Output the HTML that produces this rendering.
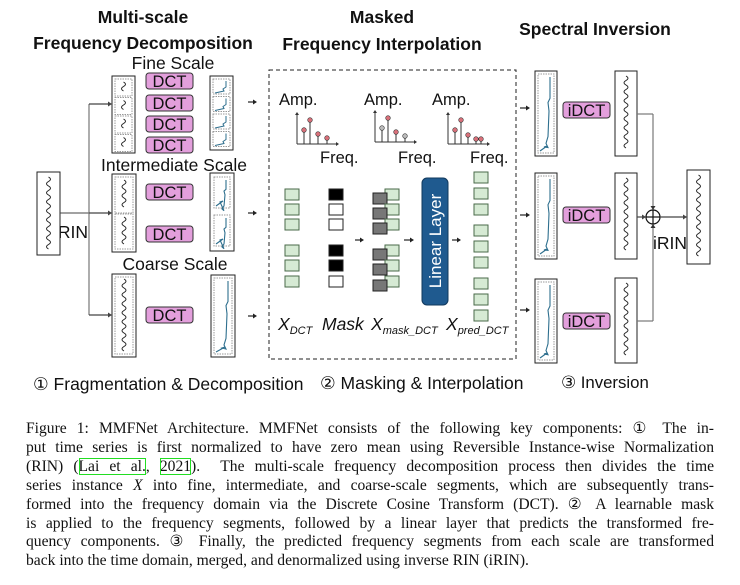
<!DOCTYPE html>
<html><head><meta charset="utf-8"><style>
body{margin:0;background:#fff;width:740px;height:585px;overflow:hidden;position:relative;font-family:"Liberation Sans",sans-serif}
svg{position:absolute;left:0;top:0}
.cap{position:absolute;left:26px;width:688px;top:420px;font-family:"Liberation Serif",serif;font-size:15.6px;line-height:18.9px;color:#111}
.cap div{text-align:justify;text-align-last:justify;white-space:nowrap;letter-spacing:0px}
.cap div.l{text-align-last:left}
.cit{outline:1.5px solid #22dd22;outline-offset:-1px}
</style></head><body>
<svg id="s" width="740" height="400" viewBox="0 0 740 400" font-family="Liberation Sans, sans-serif">
<g font-weight="bold" font-size="17.5" text-anchor="middle" fill="#111">
<text x="143" y="23">Multi-scale</text>
<text x="143" y="49">Frequency Decomposition</text>
<text x="382" y="23">Masked</text>
<text x="382" y="50">Frequency Interpolation</text>
<text x="595" y="35">Spectral Inversion</text>
</g>
<g font-size="17.5" text-anchor="middle" fill="#111">
<text x="173" y="69">Fine Scale</text>
<text x="174" y="171">Intermediate Scale</text>
<text x="175" y="270">Coarse Scale</text>
<text x="73" y="238">RIN</text>
<text x="670" y="249">iRIN</text>
</g>
<rect x="269" y="70" width="247" height="289" fill="none" stroke="#222" stroke-dasharray="4,3"/>
<g id="dyn"></g>
<rect x="422" y="178" width="26" height="127" rx="5" fill="#1f5a8f" stroke="#12395d"/>
<text transform="translate(441,241) rotate(-90)" text-anchor="middle" font-size="17" fill="#fff">Linear Layer</text>
<g font-size="17.5" font-style="italic" fill="#111">
<text x="278" y="330">X<tspan font-size="11" dy="4">DCT</tspan></text>
<text x="322" y="330">Mask</text>
<text x="371" y="330">X<tspan font-size="11" dy="4">mask_DCT</tspan></text>
<text x="446" y="330">X<tspan font-size="11" dy="4">pred_DCT</tspan></text>
</g>
<g font-size="16.5" fill="#111">
<text x="279" y="105">Amp.</text><text x="364" y="105">Amp.</text><text x="432" y="105">Amp.</text>
<text x="320" y="163">Freq.</text><text x="398" y="163">Freq.</text><text x="470" y="163">Freq.</text>
</g>
<g font-size="17.5" fill="#111">
<text x="33" y="390">① Fragmentation &amp; Decomposition</text>
<text x="320" y="389">② Masking &amp; Interpolation</text>
<text x="561" y="388" font-size="16.8">③ Inversion</text>
</g>
</svg>
<div class="cap">
<div>Figure 1: MMFNet Architecture. MMFNet consists of the following key components: ① The in-</div>
<div>put time series is first normalized to have zero mean using Reversible Instance-wise Normalization</div>
<div>(RIN) (<span class="cit">Lai et al.</span>, <span class="cit">2021</span>). &nbsp;The multi-scale frequency decomposition process then divides the time</div>
<div>series instance <i>X</i> into fine, intermediate, and coarse-scale segments, which are subsequently trans-</div>
<div>formed into the frequency domain via the Discrete Cosine Transform (DCT). ② A learnable mask</div>
<div>is applied to the frequency segments, followed by a linear layer that predicts the transformed fre-</div>
<div>quency components. ③ Finally, the predicted frequency segments from each scale are transformed</div>
<div class="l">back into the time domain, merged, and denormalized using inverse RIN (iRIN).</div>
</div>
<script>
var h='';
function R(x,y,w,hh,f,s,ex){h+='<rect x="'+x+'" y="'+y+'" width="'+w+'" height="'+hh+'" fill="'+(f||'#fff')+'" stroke="'+(s||'#222')+'" '+(ex||'')+'/>';}
function L(x1,y1,x2,y2,c,w){h+='<line x1="'+x1+'" y1="'+y1+'" x2="'+x2+'" y2="'+y2+'" stroke="'+(c||'#222')+'" stroke-width="'+(w||1)+'"/>';}
function A(x1,y,x2,c){L(x1,y,x2-3,y,c||'#222',1.2);h+='<path d="M'+x2+' '+y+' l-4 -2.5 v5z" fill="'+(c||'#222')+'"/>';}
function AV(x,y1,y2){L(x,y1,x,y2+(y2>y1?-3:3),'#777',1.2);var d=y2>y1?-4:4;h+='<path d="M'+x+' '+y2+' l-2.5 '+d+' h5z" fill="#333"/>';}
function W(cx,y1,y2){var p='M'+cx+' '+y1,n=Math.floor((y2-y1)/4.5),s=1;for(var i=0;i<n;i++){p+=' q'+(s*4)+' 2.25 0 4.5';s=-s;}h+='<path d="'+p+'" fill="none" stroke="#222" stroke-width="0.9"/>';}
function WB(x,y,w,hh,dot){R(x,y,w,hh);if(dot){R(x+3,y+3,w-6,hh-6,'#fff','#999','stroke-dasharray="1.5,1"');}W(x+w/2,y+5,y+hh-5);}
function SP(x,y,w,hh,nb){if(!nb)R(x,y,w,hh);R(x+3,y+3,w-6,hh-6,'#fff','#999','stroke-dasharray="1.5,1"');
var rx=x+w-7,bx=x+5,t=y+6,b=y+hh-5,H=hh;
var p='M'+rx+' '+t+' L'+rx+' '+(t+H*0.25)+' L'+(rx-2)+' '+(t+H*0.3)+' L'+(rx-1)+' '+(t+H*0.4)+' L'+(rx-2)+' '+(t+H*0.7)+' L'+(rx-4)+' '+(t+H*0.78)+' L'+(rx-2)+' '+(t+H*0.83)+' L'+(rx-6)+' '+(b-4)+' L'+(rx-3)+' '+(b-5)+' L'+bx+' '+b;
h+='<path d="'+p+'" fill="none" stroke="#2e6f8e" stroke-width="1.1"/>';}
function D(x,y,w,t){h+='<rect x="'+x+'" y="'+y+'" width="'+w+'" height="16" rx="3" fill="#e39fdc" stroke="#333"/><text x="'+(x+w/2)+'" y="'+(y+14)+'" text-anchor="middle" font-size="16.5" fill="#111">'+t+'</text>';}
WB(37,172,23,83,false);
L(60,213,89,213,'#444');L(89,104,89,315,'#777',1.2);A(89,104,112,'#444');A(89,213,112,'#444');A(89,315,112,'#444');
R(112,76,23,77);for(var i=0;i<4;i++){var yy=79+i*18.5;R(115,yy,17,17,'#fff','#999','stroke-dasharray="1.5,1"');W(123.5,yy+3,yy+15);}
[73,95,116,137].forEach(function(y){D(146,y,47,'DCT');});
R(210,76,23,74);for(var i=0;i<4;i++){var yy=79+i*17.5;R(213,yy,17,15,'#fff','#999','stroke-dasharray="1.5,1"');h+='<path d="M226 '+(yy+2)+' v6 l-3 2 l1 2 l-9 2" fill="none" stroke="#2e6f8e"/>';}
R(112,174,24,78);R(115,177,18,36,'#fff','#999','stroke-dasharray="1.5,1"');R(115,214,18,35,'#fff','#999','stroke-dasharray="1.5,1"');W(124,180,210);W(124,217,246);
D(146,184,47,'DCT');D(146,226,47,'DCT');
R(210,173,24,78);SP(211,174,22,37,true);SP(211,212,22,37,true);
WB(112,274,24,83,true);D(146,307,47,'DCT');SP(211,275,24,82);
A(248,102,257);A(248,213,257);A(248,316,257);
function PL(x,y,pts){L(x,y,x,y-30,'#333');h+='<path d="M'+x+' '+(y-32)+' l-2 3 h4z" fill="#333"/>';L(x,y,x+40,y,'#333');h+='<path d="M'+(x+42)+' '+y+' l-3 -2 v4z" fill="#333"/>';
pts.forEach(function(p){L(x+p[0],y,x+p[0],y-p[1],'#333');h+='<circle cx="'+(x+p[0])+'" cy="'+(y-p[1])+'" r="2.3" fill="'+(p[2]||'#d9707a')+'" stroke="#333" stroke-width="0.6"/>';});}
PL(297,144,[[7,14],[13,24],[21,10],[30,6]]);
PL(375,142,[[7,14,'#bbb'],[13,24],[21,10],[30,6,'#bbb']]);
PL(448,144,[[7,14],[13,24],[20,9],[28,5],[33,5]]);
var ys=[189,204,219,245,260,276];
ys.forEach(function(y){R(285,y,14,11,'#d6ead4','#4a6a4a');});
var mk=['#000','#fff','#fff','#000','#000','#fff'];ys.forEach(function(y,i){R(329,y,14,11,mk[i],'#222');});
ys.forEach(function(y){R(385,y,14,11,'#d6ead4','#4a6a4a');R(373,y+4,14,11,'#777','#222');});
for(var i=0;i<9;i++){var yy=172+i*16+(i>2?5:0)+(i>5?5:0);R(474,yy,14,11,'#d6ead4','#4a6a4a');}
A(355,240,364);A(404,240,414);A(452,240,461);
A(520,108,530);A(520,215,530);A(520,310,530);
SP(535,71,22,85);SP(535,173,22,86);SP(535,279,22,84);
D(563,102,47,'iDCT');D(563,207,47,'iDCT');D(563,313,47,'iDCT');
WB(615,71,22,85,false);WB(615,173,22,86,false);WB(615,278,22,85,false);
L(637,114,653,114,'#777',1.2);AV(653,114,210);L(637,321,653,321,'#777',1.2);AV(653,321,224);
A(637,217,646,'#444');
h+='<circle cx="653" cy="217" r="7" fill="#fff" stroke="#111" stroke-width="1.2"/>';L(646,217,660,217,'#111',1.2);L(653,210,653,224,'#111',1.2);
A(660,217,687,'#444');
WB(687,170,23,94,false);
document.getElementById('dyn').innerHTML=h;
</script>
</body></html>
